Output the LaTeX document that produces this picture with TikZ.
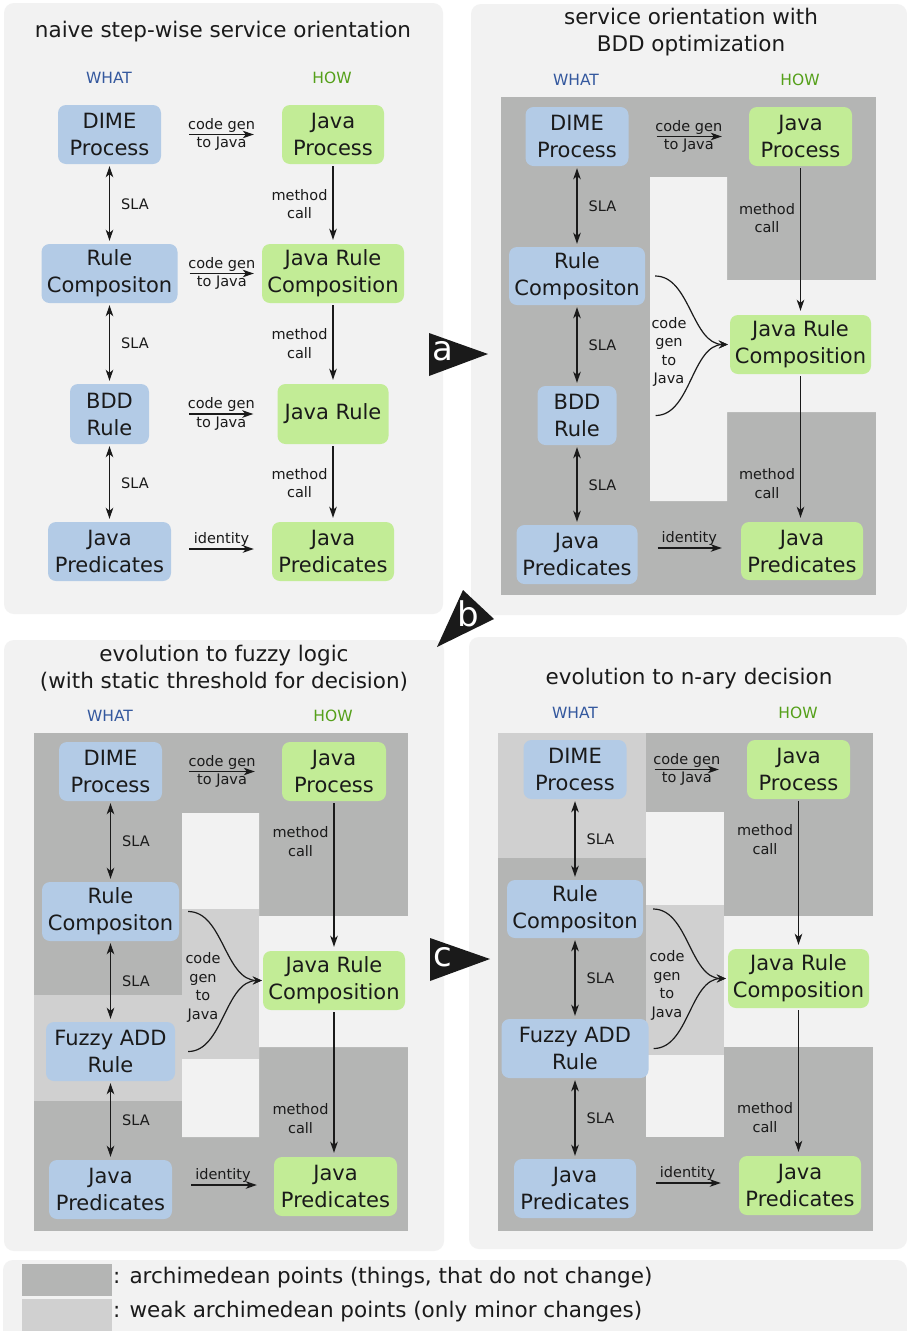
\documentclass[tikz,border=0pt]{standalone}
\usepackage{fontspec}
\setmainfont{DejaVu Sans}
\usetikzlibrary{arrows.meta}

\definecolor{panelbg}{HTML}{F2F2F2}
\definecolor{archi}{HTML}{B4B5B4}
\definecolor{weak}{HTML}{D0D0D0}
\definecolor{whatfill}{HTML}{B3CBE6}
\definecolor{howfill}{HTML}{C2EC96}
\definecolor{whatcol}{HTML}{34589E}
\definecolor{howcol}{HTML}{55A01A}
\definecolor{ink}{HTML}{1A1A1A}

\newcommand\boxfont{\fontsize{21}{27}\selectfont}
\newcommand\smallfont{\fontsize{14.5}{18.5}\selectfont}
\newcommand\headfont{\fontsize{21.5}{27}\selectfont}
\newcommand\colfont{\fontsize{15.5}{18}\selectfont}
\newcommand\markfont{\fontsize{34}{34}\selectfont}

\tikzset{
  panel/.style={fill=panelbg, rounded corners=10pt},
  whatbox/.style={fill=whatfill, rounded corners=8pt, inner sep=0pt, align=center, font=\boxfont, text=ink},
  howbox/.style={whatbox, fill=howfill},
  lbl/.style={font=\smallfont, text=ink, align=center, inner sep=0pt},
  ptitle/.style={font=\headfont, text=ink, align=center, inner sep=0pt},
  whathead/.style={font=\colfont, text=whatcol, inner sep=0pt},
  howhead/.style={font=\colfont, text=howcol, inner sep=0pt},
  flow/.style={-{Stealth[length=11pt,width=7.5pt,inset=3pt]}, line width=1.5pt, draw=ink, shorten <=2pt, shorten >=4pt},
  sla/.style={flow, {Stealth[length=11pt,width=7.5pt,inset=3pt]}-{Stealth[length=11pt,width=7.5pt,inset=3pt]}, shorten >=3pt},
  merge/.style={-{Stealth[length=9pt,width=8pt,inset=3.5pt]}, line width=1.2pt, draw=ink},
  marker/.style={fill=ink},
  markletter/.style={font=\markfont, text=white, inner sep=0pt},
  legendtext/.style={font=\headfont, text=ink, anchor=west, inner sep=0pt}
}

\begin{document}
\begin{tikzpicture}[x=1pt,y=-1pt]
\useasboundingbox[fill=white] (0,0) rectangle (907,1331);

% ---------- panel backgrounds ----------
\fill[panel] (4,3) rectangle (443,614);
\fill[panel] (471,4) rectangle (907,615);
\fill[panel] (4,640) rectangle (444,1251);
\fill[panel] (469,637) rectangle (907,1249);
\fill[panel] (3,1260) rectangle (907,1350);

% ---------- archimedean regions, panel 2 ----------
\fill[archi] (501,97) rectangle (876,595);
\fill[panelbg] (650,177) -- (727,177) -- (727,280) -- (876,280) -- (876,412)
  -- (727,412) -- (727,501) -- (650,501) -- cycle;

% ---------- archimedean regions, panel 3 ----------
\fill[archi] (34,733) rectangle (408,1231);
\fill[panelbg] (182,813) -- (259,813) -- (259,916) -- (408,916) -- (408,1047)
  -- (259,1047) -- (259,1137) -- (182,1137) -- cycle;
\fill[weak] (182,909) rectangle (259,1059);
\fill[weak] (34,995) rectangle (182,1101);

% ---------- archimedean regions, panel 4 ----------
\fill[archi] (498,733) rectangle (873,1231);
\fill[weak] (498,733) rectangle (646,858);
\fill[panelbg] (646,812) rectangle (724,905);
\fill[weak] (646,905) rectangle (724,1055);
\fill[panelbg] (646,1055) rectangle (724,1137);
\fill[panelbg] (724,916) rectangle (873,1047);

% ---------- panel 1: naive step-wise service orientation ----------
\node[ptitle] (t1) at (223,32) {naive step-wise service orientation};
\node[whathead] (w1) at (109,78) {WHAT};
\node[howhead] (h1) at (332,78) {HOW};

\node[whatbox, minimum width=103pt, minimum height=59pt] (d1) at (109.5,134.5) {DIME\\Process};
\node[howbox, minimum width=102pt, minimum height=59pt] (jp1) at (333,134.5) {Java\\Process};
\node[whatbox, minimum width=136pt, minimum height=59pt] (rc1) at (109.5,273.5) {Rule\\Compositon};
\node[howbox, minimum width=142pt, minimum height=59pt] (jrc1) at (333,273.5) {Java Rule\\Composition};
\node[whatbox, minimum width=79pt, minimum height=60pt] (bdd1) at (109.5,414) {BDD\\Rule};
\node[howbox, minimum width=111pt, minimum height=60pt] (jr1) at (333,414) {Java Rule};
\node[whatbox, minimum width=123pt, minimum height=59pt] (jpb1) at (109.5,551.5) {Java\\Predicates};
\node[howbox, minimum width=122pt, minimum height=59pt] (jpg1) at (333,551.5) {Java\\Predicates};

\draw[flow, shorten <=28pt, shorten >=28pt] (d1.east) -- node[lbl] {code gen\\to Java} (d1.east -| jp1.west);
\draw[flow, shorten <=12pt, shorten >=8pt] (rc1.east) -- node[lbl, xshift=2pt] {code gen\\to Java} (rc1.east -| jrc1.west);
\draw[flow, shorten <=40pt, shorten >=24pt] (bdd1.east) -- node[lbl, xshift=8pt] {code gen\\to Java} (bdd1.east -| jr1.west);
\draw[flow, shorten <=18pt, shorten >=18pt] ([yshift=2.5pt]jpb1.east) -- node[lbl, yshift=10pt] {identity} ([yshift=2.5pt]jpg1.west);

\draw[sla] (d1.south) -- node[lbl, xshift=25.5pt] {SLA} (d1.south |- rc1.north);
\draw[sla] (rc1.south) -- node[lbl, xshift=25.5pt] {SLA} (rc1.south |- bdd1.north);
\draw[sla] (bdd1.south) -- node[lbl, xshift=25.5pt] {SLA} (bdd1.south |- jpb1.north);
\draw[flow] (jp1.south) -- node[lbl, xshift=-33.5pt] {method\\call} (jp1.south |- jrc1.north);
\draw[flow] (jrc1.south) -- node[lbl, xshift=-33.5pt] {method\\call} (jrc1.south |- jr1.north);
\draw[flow] (jr1.south) -- node[lbl, xshift=-33.5pt] {method\\call} (jr1.south |- jpg1.north);

% ---------- panel 2: BDD optimization ----------
\node[ptitle] (t2) at (691,32.5) {service orientation with\\BDD optimization};
\node[whathead] (w2) at (576,80) {WHAT};
\node[howhead] (h2) at (800,80) {HOW};

\node[whatbox, minimum width=103pt, minimum height=59pt] (d2) at (577,136.5) {DIME\\Process};
\node[howbox, minimum width=103pt, minimum height=59pt] (jp2) at (800.5,136.5) {Java\\Process};
\node[whatbox, minimum width=136pt, minimum height=58pt] (rc2) at (577,276) {Rule\\Compositon};
\node[howbox, minimum width=141pt, minimum height=59pt] (jrc2) at (800.5,344.5) {Java Rule\\Composition};
\node[whatbox, minimum width=79pt, minimum height=59pt] (bdd2) at (577,415.5) {BDD\\Rule};
\node[whatbox, minimum width=121pt, minimum height=59pt] (jpb2) at (577,554.5) {Java\\Predicates};
\node[howbox, minimum width=122pt, minimum height=58pt] (jpg2) at (802,551) {Java\\Predicates};

\draw[flow, shorten <=28pt, shorten >=27pt] (d2.east) -- node[lbl] {code gen\\to Java} (d2.east -| jp2.west);
\draw[flow, shorten <=20pt, shorten >=19pt] ([yshift=6.5pt]jpb2.east) -- node[lbl, yshift=10pt] {identity} ([yshift=3pt]jpg2.west);
\draw[sla] (d2.south) -- node[lbl, xshift=25.5pt] {SLA} (d2.south |- rc2.north);
\draw[sla] (rc2.south) -- node[lbl, xshift=25.5pt] {SLA} (rc2.south |- bdd2.north);
\draw[sla] (bdd2.south) -- node[lbl, xshift=25.5pt] {SLA} (bdd2.south |- jpb2.north);
\draw[flow] (jp2.south) -- node[lbl, xshift=-33.5pt, pos=0.35] {method\\call} (jp2.south |- jrc2.north);
\draw[flow] (jrc2.south) -- node[lbl, xshift=-33.5pt, pos=0.74] {method\\call} (jrc2.south |- jpg2.north);

\draw[merge, shorten >=2pt] ([xshift=10pt]rc2.east) .. controls +(35,0) and +(-38,0) .. (jrc2.west);
\draw[merge, shorten >=2pt] ([xshift=39pt]bdd2.east) .. controls +(35,0) and +(-38,0) .. (jrc2.west);
\node[lbl] (cg2) at (669,352) {code\\gen\\to\\Java};

% ---------- panel 3: fuzzy logic ----------
\node[ptitle] (t3) at (224,668.5) {evolution to fuzzy logic\\(with static threshold for decision)};
\node[whathead] (w3) at (110,716) {WHAT};
\node[howhead] (h3) at (333,716) {HOW};

\node[whatbox, minimum width=103pt, minimum height=59pt] (d3) at (110.5,771.5) {DIME\\Process};
\node[howbox, minimum width=104pt, minimum height=59pt] (jp3) at (334,771.5) {Java\\Process};
\node[whatbox, minimum width=137pt, minimum height=59pt] (rc3) at (110.5,911.5) {Rule\\Compositon};
\node[howbox, minimum width=142pt, minimum height=59pt] (jrc3) at (334,980.5) {Java Rule\\Composition};
\node[whatbox, minimum width=129pt, minimum height=59pt] (fz3) at (110.5,1051.5) {Fuzzy ADD\\Rule};
\node[whatbox, minimum width=123pt, minimum height=59pt] (jpb3) at (110.5,1189.5) {Java\\Predicates};
\node[howbox, minimum width=123pt, minimum height=59pt] (jpg3) at (335.5,1186.5) {Java\\Predicates};

\draw[flow, shorten <=27pt, shorten >=27pt] (d3.east) -- node[lbl] {code gen\\to Java} (d3.east -| jp3.west);
\draw[flow, shorten <=19pt, shorten >=17pt] ([yshift=4.5pt]jpb3.east) -- node[lbl, yshift=10pt] {identity} ([yshift=1.5pt]jpg3.west);
\draw[sla] (d3.south) -- node[lbl, xshift=25.5pt] {SLA} (d3.south |- rc3.north);
\draw[sla] (rc3.south) -- node[lbl, xshift=25.5pt] {SLA} (rc3.south |- fz3.north);
\draw[sla] (fz3.south) -- node[lbl, xshift=25.5pt] {SLA} (fz3.south |- jpb3.north);
\draw[flow] (jp3.south) -- node[lbl, xshift=-33.5pt, pos=0.27] {method\\call} (jp3.south |- jrc3.north);
\draw[flow] (jrc3.south) -- node[lbl, xshift=-33.5pt, pos=0.74] {method\\call} (jrc3.south |- jpg3.north);

\draw[merge, shorten >=1pt] ([xshift=9pt]rc3.east) .. controls +(35,0) and +(-38,0) .. (jrc3.west);
\draw[merge, shorten >=1pt] ([xshift=13pt]fz3.east) .. controls +(35,0) and +(-38,0) .. (jrc3.west);
\node[lbl] (cg3) at (203,987.5) {code\\gen\\to\\Java};

% ---------- panel 4: n-ary decision ----------
\node[ptitle] (t4) at (689,679) {evolution to n-ary decision};
\node[whathead] (w4) at (575,713) {WHAT};
\node[howhead] (h4) at (798,713) {HOW};

\node[whatbox, minimum width=103pt, minimum height=59pt] (d4) at (575,769.5) {DIME\\Process};
\node[howbox, minimum width=103pt, minimum height=59pt] (jp4) at (798.5,769.5) {Java\\Process};
\node[whatbox, minimum width=136pt, minimum height=58pt] (rc4) at (575,909) {Rule\\Compositon};
\node[howbox, minimum width=141pt, minimum height=59pt] (jrc4) at (798.5,978.5) {Java Rule\\Composition};
\node[whatbox, minimum width=147pt, minimum height=59pt] (fz4) at (575,1048.5) {Fuzzy ADD\\Rule};
\node[whatbox, minimum width=122pt, minimum height=59pt] (jpb4) at (575,1188.5) {Java\\Predicates};
\node[howbox, minimum width=122pt, minimum height=59pt] (jpg4) at (800,1185.5) {Java\\Predicates};

\draw[flow, shorten <=28pt, shorten >=28pt] (d4.east) -- node[lbl] {code gen\\to Java} (d4.east -| jp4.west);
\draw[flow, shorten <=20pt, shorten >=18pt] ([yshift=5.5pt]jpb4.east) -- node[lbl, yshift=10pt] {identity} ([yshift=2.5pt]jpg4.west);
\draw[sla] (d4.south) -- node[lbl, xshift=25.5pt] {SLA} (d4.south |- rc4.north);
\draw[sla] (rc4.south) -- node[lbl, xshift=25.5pt] {SLA} (rc4.south |- fz4.north);
\draw[sla] (fz4.south) -- node[lbl, xshift=25.5pt] {SLA} (fz4.south |- jpb4.north);
\draw[flow] (jp4.south) -- node[lbl, xshift=-33.5pt, pos=0.27] {method\\call} (jp4.south |- jrc4.north);
\draw[flow] (jrc4.south) -- node[lbl, xshift=-33.5pt, pos=0.74] {method\\call} (jrc4.south |- jpg4.north);

\draw[merge, shorten >=2pt] ([xshift=10pt]rc4.east) .. controls +(35,0) and +(-38,0) .. (jrc4.west);
\draw[merge, shorten >=2pt] ([xshift=5pt]fz4.east) .. controls +(35,0) and +(-38,0) .. (jrc4.west);
\node[lbl] (cg4) at (667,985.5) {code\\gen\\to\\Java};

% ---------- step markers ----------
\fill[marker] (429,333) -- (429,376) -- (488,354) -- cycle;
\node[markletter] (ma) at (443,351) {a};
\fill[marker] (463,590) -- (494,619) -- (437,647) -- cycle;
\node[markletter] (mb) at (468,614) {b};
\fill[marker] (430,938) -- (430,981) -- (490,959) -- cycle;
\node[markletter] (mc) at (443,957) {c};

% ---------- legend ----------
\fill[archi] (22,1264) rectangle (112,1296);
\fill[weak] (22,1299) rectangle (112,1331);
\node[legendtext] (lg1) at (113,1278) {: archimedean points (things, that do not change)};
\node[legendtext] (lg2) at (113,1312) {: weak archimedean points (only minor changes)};
\end{tikzpicture}
\end{document}
